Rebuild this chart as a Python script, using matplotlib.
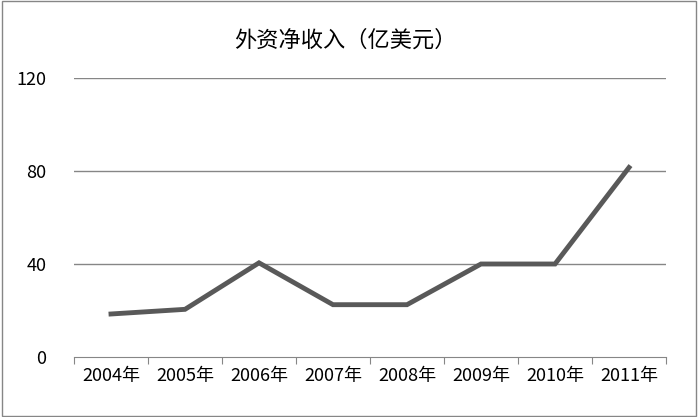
import matplotlib
matplotlib.use("Agg")
import matplotlib.pyplot as plt
from matplotlib.patches import Rectangle

plt.rcParams['font.family'] = ['Noto Sans CJK SC', 'DejaVu Sans']

years = ["2004年", "2005年", "2006年", "2007年", "2008年", "2009年", "2010年", "2011年"]
values = [18.5, 20.5, 40.5, 22.5, 22.5, 40, 40, 81.5]
yticks = [0, 40, 80, 120]

fig = plt.figure(figsize=(6.98, 4.17), dpi=100)
ax = fig.add_axes([74/698, 1-357/417, 592/698, 279/417])
x = list(range(len(years)))
ax.plot(x, values, color='#595959', lw=3.5, solid_joinstyle='miter')
ax.set_xlim(-0.5, 7.5)
ax.set_ylim(0, 120)
ax.set_yticks(yticks)
ax.set_yticklabels([str(v) for v in yticks], fontsize=13)
for v in yticks[1:]:
    ax.axhline(v, color='#868686', lw=1, zorder=0)
ax.set_xticks([i + 0.5 for i in range(-1, 8)], minor=False)
ax.set_xticklabels([])
ax.set_xticks(x, minor=True)
ax.set_xticklabels(years, minor=True, fontsize=13)
ax.tick_params(axis='x', which='major', length=5, color='#868686', direction='out')
ax.tick_params(axis='x', which='minor', length=0, pad=7)
ax.tick_params(axis='y', length=0, pad=20)
for s in ['top', 'right', 'left']:
    ax.spines[s].set_visible(False)
ax.spines['bottom'].set_color('#868686')
fig.text(345/698, 1-40/417, "外资净收入（亿美元）", fontsize=16, ha='center', va='center')
fig.patches.append(Rectangle((0.003, 0.003), 0.994, 0.994, transform=fig.transFigure,
                             fill=False, edgecolor='#868686', lw=1))
fig.savefig("out.png", dpi=100)
